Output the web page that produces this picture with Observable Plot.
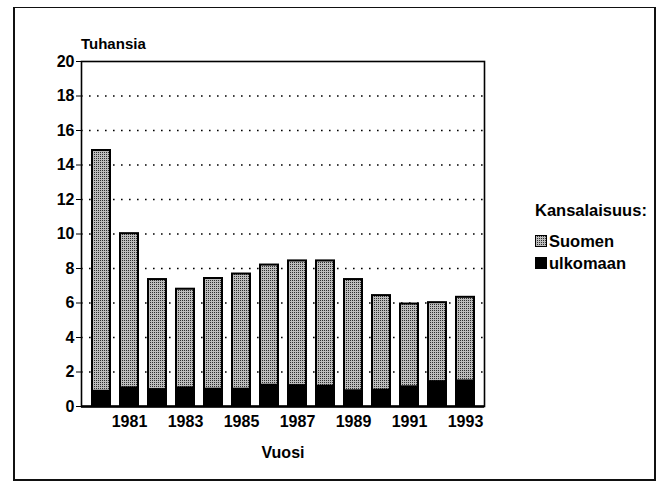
<!DOCTYPE html>
<html>
<head>
<meta charset="utf-8">
<script src="https://cdn.jsdelivr.net/npm/d3@7"></script>
<script src="https://cdn.jsdelivr.net/npm/@observablehq/plot@0.6"></script>
<style>
  html, body { margin: 0; padding: 0; background: #fff; overflow: hidden; }
  #wrap { position: relative; width: 662px; height: 481px; font-family: "Liberation Sans", Arial, sans-serif; font-weight: bold; color: #000; }
  #wrap svg { position: absolute; left: 0; top: 0; }
  .box { position: absolute; left: 13px; top: 7px; width: 639px; height: 471px; border: 2px solid #111; border-top-width: 1.5px; }
  .lab { position: absolute; white-space: nowrap; line-height: 1; }
  .sw { position: absolute; width: 10px; height: 10px; border: 1px solid #000; }
</style>
</head>
<body>
<div id="wrap">
  <div class="box"></div>
</div>
<script>
const years = [1980, 1981, 1982, 1983, 1984, 1985, 1986, 1987, 1988, 1989, 1990, 1991, 1992, 1993];
const suomen = [13.96, 8.94, 6.38, 5.72, 6.42, 6.68, 6.97, 7.23, 7.26, 6.45, 5.48, 4.80, 4.58, 4.85];
const ulkomaan = [0.88, 1.08, 0.98, 1.08, 1.00, 1.00, 1.23, 1.21, 1.18, 0.91, 0.95, 1.14, 1.44, 1.48];
const groups = ["ulkomaan", "Suomen"];
const yTicks = [0, 2, 4, 6, 8, 10, 12, 14, 16, 18, 20];
const gridTicks = [2, 4, 6, 8, 10, 12, 14, 16, 18];
const xTickYears = [1981, 1983, 1985, 1987, 1989, 1991, 1993];
const yLabel = "Tuhansia";
const xLabel = "Vuosi";
const legendTitle = "Kansalaisuus:";

const rows = [];
years.forEach((y, i) => {
  rows.push({year: y, group: "ulkomaan", value: ulkomaan[i]});
  rows.push({year: y, group: "Suomen", value: suomen[i]});
});

const chart = Plot.plot({
  width: 662,
  height: 481,
  marginLeft: 81,
  marginRight: 178,
  marginTop: 61,
  marginBottom: 75,
  style: {fontFamily: "'Liberation Sans', Arial, sans-serif", fontSize: "16px", fontWeight: "bold", background: "transparent", overflow: "visible"},
  x: {type: "band", domain: years, paddingInner: 0.36, paddingOuter: 0.165, label: null},
  y: {domain: [0, 20], label: null},
  color: {domain: ["Suomen", "ulkomaan"], range: ["url(#stip)", "#000"]},
  marks: [
    Plot.ruleY(gridTicks, {stroke: "#000", strokeWidth: 1.6, strokeDasharray: "1.6,6.4"}),
    Plot.barY(rows, Plot.stackY({x: "year", y: "value", z: "group", order: groups, fill: "group", stroke: "#000", strokeWidth: 2})),
    Plot.frame({stroke: "#000", strokeWidth: 1.6}),
    Plot.ruleY([0], {stroke: "#000", strokeWidth: 2.5}),
    Plot.axisY({ticks: yTicks, tickSize: 5, tickPadding: 2, tickFormat: d => String(d), label: null, fontSize: 16}),
    Plot.axisX({ticks: xTickYears, tickSize: 0, tickPadding: 9, tickFormat: d => String(d), label: null, fontSize: 16})
  ]
});

// stipple pattern for the Finnish-citizen bars
const ns = "http://www.w3.org/2000/svg";
const defs = document.createElementNS(ns, "defs");
const pat = document.createElementNS(ns, "pattern");
pat.setAttribute("id", "stip");
pat.setAttribute("width", "2");
pat.setAttribute("height", "2");
pat.setAttribute("patternUnits", "userSpaceOnUse");
const bg = document.createElementNS(ns, "rect");
bg.setAttribute("width", "2"); bg.setAttribute("height", "2"); bg.setAttribute("fill", "#bcbcbc");
const dot = document.createElementNS(ns, "rect");
dot.setAttribute("width", "1"); dot.setAttribute("height", "1"); dot.setAttribute("fill", "#2e2e2e");
pat.appendChild(bg); pat.appendChild(dot);
defs.appendChild(pat);
chart.insertBefore(defs, chart.firstChild);

const wrap = document.getElementById("wrap");
wrap.appendChild(chart);

function addLabel(text, left, top, size, center) {
  const el = document.createElement("div");
  el.className = "lab";
  el.textContent = text;
  el.style.fontSize = size + "px";
  el.style.left = left + "px";
  el.style.top = top + "px";
  if (center) el.style.transform = "translateX(-50%)";
  wrap.appendChild(el);
  return el;
}
addLabel(yLabel, 81, 36, 15, false);
addLabel(xLabel, 283, 445, 16, true);
addLabel(legendTitle, 535, 202, 16.5, false);

function addSwatch(fill, top) {
  const s = document.createElement("div");
  s.className = "sw";
  s.style.left = "535px";
  s.style.top = top + "px";
  if (fill === "stip") {
    s.style.background = "repeating-conic-gradient(#2e2e2e 0 25%, #bcbcbc 0 100%) 0 0 / 2px 2px";
    s.style.backgroundColor = "#bcbcbc";
  } else s.style.background = fill;
  wrap.appendChild(s);
}
addSwatch("stip", 235);
addSwatch("#000", 257);
addLabel("Suomen", 549, 233, 16.5, false);
addLabel("ulkomaan", 549, 255, 16.5, false);
</script>
</body>
</html>
